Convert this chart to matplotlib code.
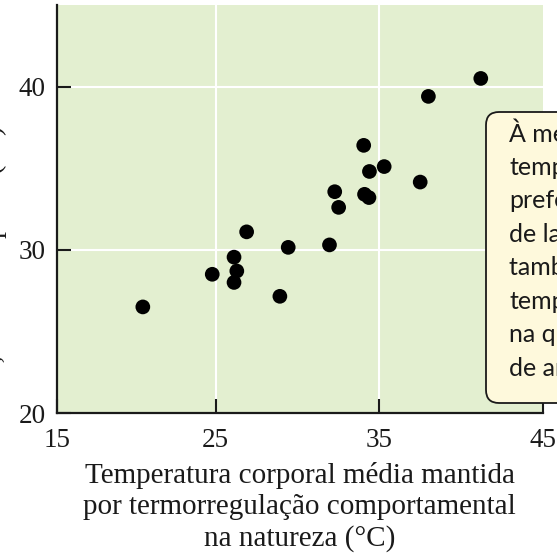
import matplotlib
matplotlib.use("Agg")
import matplotlib.pyplot as plt
from matplotlib.patches import FancyBboxPatch

# ── data ──────────────────────────────────────────────────────────────────────
field_temp = [20.56, 24.8, 26.13, 26.3, 26.13, 26.9, 28.93, 29.44, 31.96, 32.28,
              32.52, 34.05, 34.4, 35.3, 34.1, 34.37, 37.5, 38.0, 41.2]
lab_temp = [26.5, 28.5, 29.55, 28.7, 28.0, 31.1, 27.15, 30.15, 30.3, 33.56,
            32.6, 36.4, 34.8, 35.1, 33.4, 33.2, 34.15, 39.4, 40.5]

x_ticks = [15.3, 25, 35, 45]
x_tick_labels = ["15", "25", "35", "45"]
y_ticks = [20, 30, 40]
y_tick_labels = ["20", "30", "40"]
grid_x = [25, 35]
grid_y = [30, 40]

xlabel = ("Temperatura corporal média mantida\n"
          "por termorregulação comportamental\n"
          "na natureza (°C)")
ylabel = "Temperatura preferida em\nlaboratório, média corporal (°C)"
note = ("À medida que a\ntemperatura\npreferida\nde lagartos sobe,\n"
        "também sobe a\ntemperatura\nna qual vivem\nde ar livre.")

# ── style ─────────────────────────────────────────────────────────────────────
BG = "#e3efd0"
INK = "#1a1a1a"
BOX_FACE = "#fef9dc"
SERIF = "Liberation Serif"
SANS = "Lato"

fig = plt.figure(figsize=(5.57, 5.54), dpi=100)
fig.patch.set_facecolor("white")

ax = fig.add_axes([56.7 / 557, 141 / 554, (543 - 56.7) / 557, (413 - 5) / 554])
ax.set_facecolor(BG)
ax.set_xlim(15.3, 45)
ax.set_ylim(20, 45)

for gx in grid_x:
    ax.axvline(gx, color="white", lw=1.5, zorder=1)
for gy in grid_y:
    ax.axhline(gy, color="white", lw=1.5, zorder=1)

ax.scatter(field_temp, lab_temp, s=112, color="black", edgecolors="none", zorder=3)

ax.set_xticks(x_ticks)
ax.set_xticklabels(x_tick_labels, family=SERIF, fontsize=19.5)
ax.set_yticks(y_ticks)
ax.set_yticklabels(y_tick_labels, family=SERIF, fontsize=19.5)
ax.tick_params(axis="both", direction="in", length=10, width=1.5, color=INK,
               labelcolor=INK)
ax.tick_params(axis="x", pad=11)
ax.tick_params(axis="y", pad=8)

for side in ("top", "right"):
    ax.spines[side].set_visible(False)
for side in ("left", "bottom"):
    ax.spines[side].set_linewidth(1.6)
    ax.spines[side].set_color(INK)

ax.set_xlabel(xlabel, family=SERIF, fontsize=21, color=INK, linespacing=1.26,
              labelpad=6)
ax.set_ylabel(ylabel, family=SERIF, fontsize=20, color=INK, linespacing=1.2)
ax.yaxis.set_label_coords(-0.102, 0.265)

# ── note box on the right, running off the edge ──────────────────────────────
box = FancyBboxPatch((4.86, 1.51), 1.2, 2.91,
                     boxstyle="round,pad=0,rounding_size=0.13",
                     transform=fig.dpi_scale_trans,
                     facecolor=BOX_FACE, edgecolor=INK, lw=1.3, zorder=5)
fig.add_artist(box)
fig.text(509 / 557, (554 - 118) / 554, note, ha="left", va="top",
         family=SANS, fontsize=18, color=INK, linespacing=1.55, zorder=6)

fig.savefig("out.png", dpi=100, facecolor="white")
